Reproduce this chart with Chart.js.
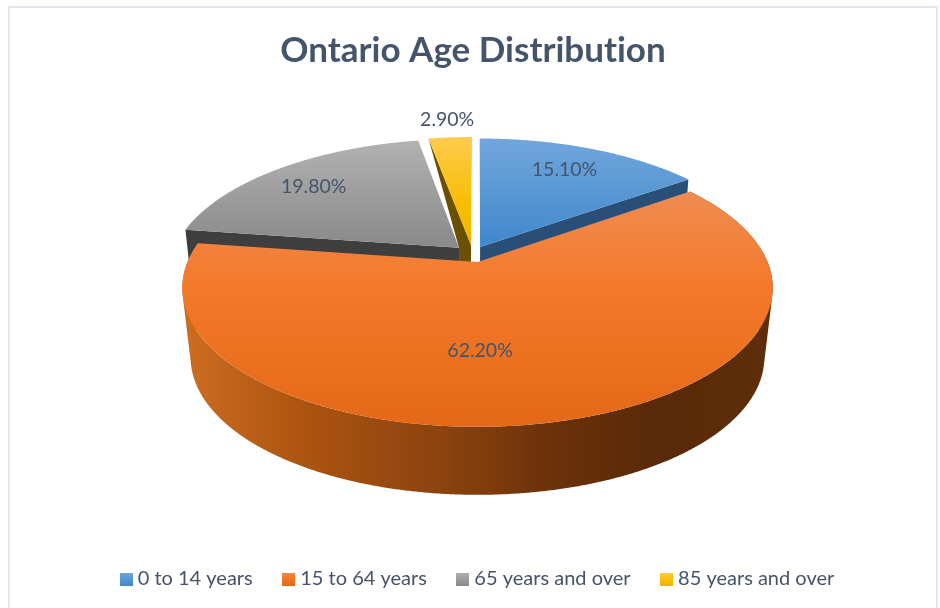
<!DOCTYPE html>
<html>
<head>
<meta charset="utf-8">
<style>html,body{margin:0;padding:0;background:#fff}canvas{display:block}</style>
<script src="https://cdn.jsdelivr.net/npm/chart.js@4"></script>
</head>
<body>
<canvas id="c" width="940" height="608"></canvas>
<script>
const categories = ["0 to 14 years", "15 to 64 years", "65 years and over", "85 years and over"];
const shares = [15.1, 62.2, 19.8, 2.9];
const chartTitle = "Ontario Age Distribution";

// Slice styling: gradient stops for the top surface, colour of the cut face
const topStops = [
  [[0, "#72a6dc"], [1, "#3f88cc"]],
  [[0, "#ef8b52"], [0.4, "#f47a2b"], [1, "#e36817"]],
  [[0, "#b2b2b2"], [1, "#898989"]],
  [[0, "#ffcb4e"], [0.65, "#f6bd00"], [1, "#f0b600"]]
];
const faceColors = ["#294f78", "#000", "#3e3e3e", "#6a5000"];
const sideStops = [[0, "#cc6c20"], [0.2, "#ac5411"], [0.45, "#8a420e"], [0.62, "#6c320a"], [0.8, "#5a2a08"], [1, "#5e2d0a"]];

// Explosion of each slice, and label placement, in units of the pie radius
const shift = [[0.009, -0.1135], [0, 0], [-0.065, -0.108], [-0.023, -0.13]];
const labelRadius = [0.775, 0.6, 0.775, 1.22];
const labelNudge = [-0.018, -0.134, -0.01, 0.003];

// Camera
const CX = 477.5, CY = 262, RX = 290, RY = 134, PERSP = 0.187, DROP = 76, SINK_X = 0.028, SINK_Y = 0.089;
function proj(u, v, z) {
  const w = 1 - PERSP * v;
  return [CX + RX * u / (w + SINK_X * z), CY + (RY * v + DROP * z) / (w + SINK_Y * z)];
}
function poly(ctx, pts) {
  ctx.beginPath();
  pts.forEach((p, i) => i ? ctx.lineTo(p[0], p[1]) : ctx.moveTo(p[0], p[1]));
  ctx.closePath();
}
function rim(arc, s, z) {
  const out = [], n = Math.ceil((arc.endAngle - arc.startAngle) / 0.005);
  for (let i = 0; i <= n; i++) {
    const a = arc.startAngle + (arc.endAngle - arc.startAngle) * i / n;
    out.push(proj(Math.cos(a) + s[0], Math.sin(a) + s[1], z));
  }
  return out;
}
function grad(ctx, x0, y0, x1, y1, stops) {
  const g = ctx.createLinearGradient(x0, y0, x1, y1);
  stops.forEach(s => g.addColorStop(s[0], s[1]));
  return g;
}
function drawTop(ctx, arc, i) {
  const s = shift[i], pts = rim(arc, s, 0);
  pts.push(proj(s[0], s[1], 0));
  const ys = pts.map(p => p[1]);
  poly(ctx, pts);
  const top = Math.min(...ys), bot = Math.max(...ys);
  ctx.fillStyle = grad(ctx, 0, top, 0, bot, topStops[i]);
  ctx.fill();
}
function drawFace(ctx, angle, s, color) {
  const u = Math.cos(angle) + s[0], v = Math.sin(angle) + s[1];
  poly(ctx, [proj(s[0], s[1], 0), proj(u, v, 0), proj(u, v, 1), proj(s[0], s[1], 1)]);
  ctx.fillStyle = color;
  ctx.fill();
}
function drawWall(ctx, arc, s) {
  const a = rim(arc, s, 0), b = rim(arc, s, 1);
  ctx.beginPath();
  for (let i = 0; i + 1 < a.length; i++) {
    let q = [a[i], a[i + 1], b[i + 1], b[i]], area = 0;
    q.forEach((p, k) => { const r = q[(k + 1) % 4]; area += p[0] * r[1] - r[0] * p[1]; });
    if (area < 0) q = q.reverse();
    q.forEach((p, k) => k ? ctx.lineTo(p[0], p[1]) : ctx.moveTo(p[0], p[1]));
    ctx.closePath();
  }
  ctx.fillStyle = grad(ctx, 187, 0, 768, 0, sideStops);
  ctx.fill();
}

const pie3d = {
  id: "pie3d",
  beforeDraw(chart) {
    const ctx = chart.ctx;
    ctx.textRendering = "optimizeSpeed";
    ctx.save();
    ctx.strokeStyle = "#e3e7ed";
    ctx.lineWidth = 2;
    ctx.strokeRect(9, 7, 928, 700);
    ctx.restore();
  },
  afterLayout(chart) {
    chart.legend.left += 9.5; chart.legend.right += 9.5;
    chart.titleBlock.left += 3; chart.titleBlock.right += 3;
  },
  beforeDatasetDraw(chart, args) {
    const ctx = chart.ctx, arcs = chart.getDatasetMeta(args.index).data;
    ctx.save();
    // far slices first
    drawFace(ctx, arcs[0].endAngle, shift[0], faceColors[0]);
    drawTop(ctx, arcs[0], 0);

    // yellow cut face: wedge that narrows to nothing at the rim
    const gs = shift[2], ys = shift[3], ya = arcs[3].startAngle;
    poly(ctx, [
      proj(Math.cos(ya) + ys[0], Math.sin(ya) + ys[1], 0),
      proj(ys[0], ys[1], 0), proj(ys[0], ys[1], 1),
      proj(gs[0], gs[1], 1), proj(gs[0], gs[1], 0)
    ]);
    ctx.fillStyle = faceColors[3];
    ctx.fill();

    drawFace(ctx, arcs[2].startAngle, gs, faceColors[2]);
    drawTop(ctx, arcs[2], 2);
    drawTop(ctx, arcs[3], 3);

    // big slice: outer wall, then top
    drawWall(ctx, arcs[1], shift[1]);
    drawTop(ctx, arcs[1], 1);

    // value labels
    ctx.font = "19.5px Lato";
    ctx.fillStyle = "#44546a";
    ctx.textAlign = "center";
    ctx.textBaseline = "middle";
    arcs.forEach((arc, i) => {
      const m = (arc.startAngle + arc.endAngle) / 2, r = labelRadius[i];
      const p = proj(r * Math.cos(m) + shift[i][0] + labelNudge[i], r * Math.sin(m) + shift[i][1], 0);
      ctx.fillText(shares[i].toFixed(2) + "%", p[0], p[1] + 1.5);
    });
    ctx.restore();
    return false;
  }
};

function swatch(stops) {
  const c = document.createElement("canvas");
  c.width = 13; c.height = 13;
  const x = c.getContext("2d");
  x.fillStyle = grad(x, 0, 0, 0, 13, stops);
  x.fillRect(0, 0, 13, 13);
  return c;
}

new Chart(document.getElementById("c"), {
  type: "pie",
  data: {
    labels: categories,
    datasets: [{ data: shares, backgroundColor: ["#5b9bd5", "#ed7d31", "#a5a5a5", "#ffc000"], borderWidth: 0 }]
  },
  options: {
    responsive: false,
    animation: false,
    rotation: 0,
    layout: { padding: { top: 30, bottom: 9 } },
    plugins: {
      tooltip: { enabled: false },
      title: {
        display: true, text: chartTitle, color: "#44546a",
        font: { family: "Lato", size: 35, weight: "bold" },
        padding: { top: 0, bottom: 10 }
      },
      legend: {
        position: "bottom",
        labels: {
          font: { family: "Lato", size: 20 }, color: "#44546a",
          usePointStyle: true, pointStyleWidth: 3, padding: 34.5,
          generateLabels(chart) {
            const items = Chart.overrides.doughnut.plugins.legend.labels.generateLabels(chart);
            items.forEach((it, i) => { it.pointStyle = swatch(topStops[i]); });
            return items;
          }
        }
      }
    }
  },
  plugins: [pie3d]
});
</script>
</body>
</html>
